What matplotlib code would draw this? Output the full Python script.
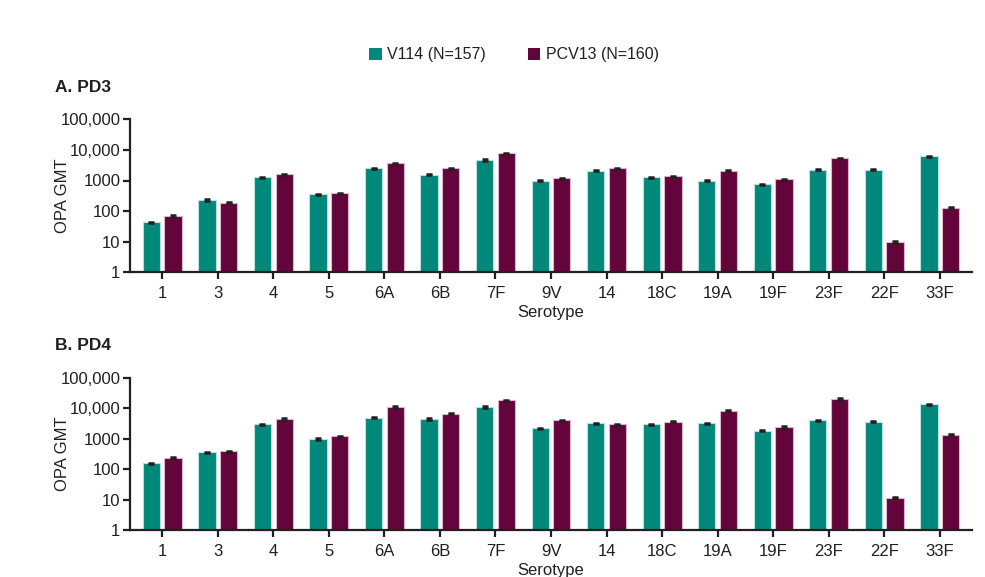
import matplotlib
matplotlib.use("Agg")
import matplotlib.pyplot as plt
import numpy as np
from matplotlib.patches import Patch

plt.rcParams['font.family'] = ['Liberation Sans', 'DejaVu Sans']

serotypes = ["1", "3", "4", "5", "6A", "6B", "7F", "9V", "14", "18C", "19A", "19F", "23F", "22F", "33F"]

pd3_v114 = [43, 230, 1300, 355, 2500, 1550, 4700, 990, 2100, 1300, 990, 750, 2250, 2250, 6300]
pd3_pcv13 = [69, 188, 1600, 390, 3650, 2500, 7700, 1180, 2500, 1400, 2100, 1100, 5300, 9.8, 129]
pd4_v114 = [158, 355, 2950, 970, 4850, 4400, 10900, 2170, 3170, 2980, 3170, 1790, 3980, 3570, 13400]
pd4_pcv13 = [237, 390, 4400, 1180, 10900, 6600, 18000, 4050, 2980, 3570, 8100, 2400, 20000, 11.5, 1320]

# 95% CI bounds (approximate, read from the small error caps)
pd3_v114_lo = [41, 218, 1250, 340, 2400, 1480, 4500, 950, 2020, 1250, 950, 715, 2160, 2160, 6050]
pd3_v114_hi = [45, 243, 1350, 370, 2600, 1620, 4900, 1030, 2180, 1350, 1030, 785, 2340, 2340, 6550]
pd3_pcv13_lo = [66, 180, 1540, 375, 3500, 2400, 7400, 1130, 2400, 1350, 2020, 1050, 5100, 9.4, 124]
pd3_pcv13_hi = [72, 196, 1660, 405, 3800, 2600, 8000, 1230, 2600, 1450, 2180, 1150, 5500, 10.2, 134]
pd4_v114_lo = [152, 340, 2830, 930, 4650, 4220, 10450, 2080, 3040, 2860, 3040, 1720, 3820, 3430, 12850]
pd4_v114_hi = [164, 370, 3070, 1010, 5050, 4580, 11350, 2260, 3300, 3100, 3300, 1860, 4140, 3710, 13950]
pd4_pcv13_lo = [228, 375, 4220, 1130, 10450, 6330, 17300, 3890, 2860, 3430, 7780, 2300, 19200, 11.0, 1270]
pd4_pcv13_hi = [246, 405, 4580, 1230, 11350, 6870, 18700, 4210, 3100, 3710, 8420, 2500, 20800, 12.0, 1370]

series_labels = ["V114 (N=157)", "PCV13 (N=160)"]
panel_titles = ["A. PD3", "B. PD4"]

teal = "#00897A"
maroon = "#63053A"
dark = "#231F20"

fig = plt.figure(figsize=(9.85, 5.77), dpi=100)
W, H = 985, 577

def ax_rect(left, right, top, bottom):
    return [left / W, 1 - bottom / H, (right - left) / W, (bottom - top) / H]

axA = fig.add_axes(ax_rect(130, 972, 119.3, 272.3))
axB = fig.add_axes(ax_rect(130, 972, 377.7, 530))

panels = [
    (axA, pd3_v114, pd3_pcv13, pd3_v114_lo, pd3_v114_hi, pd3_pcv13_lo, pd3_pcv13_hi),
    (axB, pd4_v114, pd4_pcv13, pd4_v114_lo, pd4_v114_hi, pd4_pcv13_lo, pd4_pcv13_hi),
]

x = np.arange(len(serotypes))
bw = 0.31
off = 0.195
for ax, v, p, vlo, vhi, plo, phi in panels:
    v = np.array(v, float); p = np.array(p, float)
    ax.bar(x - off, v, bw, color=teal, edgecolor="#b9e0dc", linewidth=0.8, zorder=2)
    ax.bar(x + off, p, bw, color=maroon, edgecolor="#d9b6c8", linewidth=0.8, zorder=2)
    ax.errorbar(x - off, v, yerr=[v - np.array(vlo), np.array(vhi) - v], fmt="none",
                ecolor=dark, elinewidth=1.5, capsize=2.4, capthick=1.8, zorder=3)
    ax.errorbar(x + off, p, yerr=[p - np.array(plo), np.array(phi) - p], fmt="none",
                ecolor=dark, elinewidth=1.5, capsize=2.4, capthick=1.8, zorder=3)
    ax.set_yscale("log")
    ax.set_ylim(1, 100000)
    ax.set_xlim(-0.58, len(serotypes) - 1 + 0.58)
    ax.set_yticks([1, 10, 100, 1000, 10000, 100000])
    ax.set_yticklabels(["1", "10", "100", "1000", "10,000", "100,000"])
    ax.yaxis.set_minor_locator(matplotlib.ticker.NullLocator())
    ax.set_xticks(x)
    ax.set_xticklabels(serotypes)
    for s in ["top", "right"]:
        ax.spines[s].set_visible(False)
    for s in ["left", "bottom"]:
        ax.spines[s].set_linewidth(1.6)
        ax.spines[s].set_color(dark)
    ax.tick_params(axis="both", length=5, width=1.6, color=dark, labelsize=12, labelcolor=dark)
    ax.tick_params(axis="x", pad=5)
    ax.tick_params(axis="y", pad=2)
    ax.set_ylabel("OPA GMT", fontsize=12, color=dark)
    ax.yaxis.set_label_coords((70 - 130) / 842, 0.5)
    ax.set_xlabel("Serotype", fontsize=12, color=dark, labelpad=3)
    ax.set_facecolor("none")

fig.text(55 / W, 1 - 87 / H, panel_titles[0], fontsize=12.5, fontweight="bold", color=dark, va="center", ha="left")
fig.text(55 / W, 1 - 345 / H, panel_titles[1], fontsize=12.5, fontweight="bold", color=dark, va="center", ha="left")

handles = [Patch(facecolor=teal, edgecolor="none"), Patch(facecolor=maroon, edgecolor="none")]
fig.legend(handles, series_labels, loc="center", bbox_to_anchor=(514 / W, 1 - 55 / H), ncol=2,
           frameon=False, fontsize=11.5, handlelength=0.8, handleheight=0.8, handletextpad=0.35,
           columnspacing=2.6, labelcolor=dark)

fig.savefig("out.png", dpi=100)
